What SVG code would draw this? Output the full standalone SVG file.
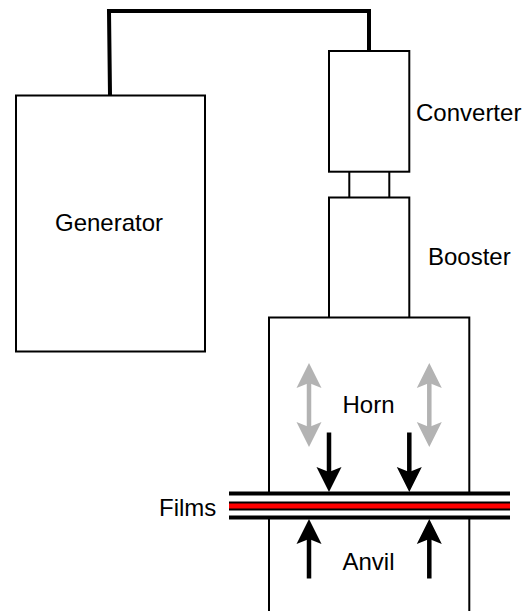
<svg xmlns="http://www.w3.org/2000/svg" width="530" height="611" viewBox="0 0 530 611">
<style>
.box{fill:#fff;stroke:#000;stroke-width:2}
.wire{fill:none;stroke:#000;stroke-width:4}
.blk{stroke:#000;stroke-width:4.500;fill:none}
.gry{stroke:#b3b3b3;stroke-width:4.500;fill:none}
.hb{fill:#000}.hg{fill:#b3b3b3}
text{font-family:"Liberation Sans",Arial,sans-serif;font-size:24px;fill:#000}
</style>
<rect width="530" height="611" fill="#fff"/>
<g id="connectors">
<path class="wire" d="M110 95 L109 11 H369 V51"/>
</g>
<g id="generator"><rect class="box" x="16" y="95.500" width="189" height="256"/><text x="109" y="231" text-anchor="middle">Generator</text></g>
<g id="neck"><rect class="box" x="349.300" y="171" width="40" height="27"/></g>
<g id="converter"><rect class="box" x="329" y="51" width="80.300" height="120.700"/><text x="416" y="121">Converter</text></g>
<g id="booster"><path class="box" d="M329 318 V197.500 H409.300 V318"/><text x="428" y="265">Booster</text></g>
<g id="horn"><path class="box" d="M269 493 V317.500 H469.300 V493"/><text x="368.500" y="413" text-anchor="middle">Horn</text></g>
<g id="anvil"><path class="box" d="M269 518 V611 M469.300 518 V611"/><text x="368.500" y="570" text-anchor="middle">Anvil</text></g>
<g id="films">
<rect x="229" y="491.500" width="281" height="4" fill="#000"/>
<rect x="229" y="501.500" width="281" height="9" fill="#000"/>
<rect x="229" y="503.500" width="281" height="5" fill="#f00"/>
<rect x="229" y="515.500" width="281" height="4" fill="#000"/>
<text x="159" y="515.500">Films</text>
</g>
<g id="vibration-left">
<path class="gry" d="M309 380 V430"/>
<path class="hg" d="M309 363 L321.500 388 L309 383 L296.500 388Z M309 447 L321.500 422 L309 427 L296.500 422Z"/>
</g>
<g id="vibration-right">
<path class="gry" d="M429.300 380 V430"/>
<path class="hg" d="M429.300 363 L441.800 388 L429.300 383 L416.800 388Z M429.300 447 L441.800 422 L429.300 427 L416.800 422Z"/>
</g>
<g id="press-down-left"><path class="blk" d="M329 432.500 V475"/><path class="hb" d="M329 492 L341.500 467 L329 472 L316.500 467Z"/></g>
<g id="press-down-right"><path class="blk" d="M409.300 432.500 V475"/><path class="hb" d="M409.300 492 L421.800 467 L409.300 472 L396.800 467Z"/></g>
<g id="press-up-left"><path class="blk" d="M309 578.500 V535"/><path class="hb" d="M309 519 L321.500 544 L309 539 L296.500 544Z"/></g>
<g id="press-up-right"><path class="blk" d="M429.300 578.500 V535"/><path class="hb" d="M429.300 519 L441.800 544 L429.300 539 L416.800 544Z"/></g>
</svg>
